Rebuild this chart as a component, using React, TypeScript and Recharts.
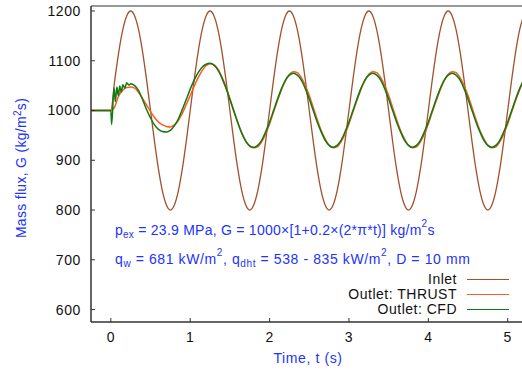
import { LineChart, Line, XAxis, YAxis, Legend } from 'recharts';

// shared time grid for inlet and THRUST (s)
const time = [
  -0.25,
  0, 0.05, 0.1, 0.15, 0.2, 0.25, 0.3, 0.35, 0.4, 0.45, 0.5, 0.55, 0.6, 0.65, 0.7, 0.75, 0.8, 0.85, 0.9, 0.95,
  1, 1.05, 1.1, 1.15, 1.2, 1.25, 1.3, 1.35, 1.4, 1.45, 1.5, 1.55, 1.6, 1.65, 1.7, 1.75, 1.8, 1.85, 1.9, 1.95,
  2, 2.05, 2.1, 2.15, 2.2, 2.25, 2.3, 2.35, 2.4, 2.45, 2.5, 2.55, 2.6, 2.65, 2.7, 2.75, 2.8, 2.85, 2.9, 2.95,
  3, 3.05, 3.1, 3.15, 3.2, 3.25, 3.3, 3.35, 3.4, 3.45, 3.5, 3.55, 3.6, 3.65, 3.7, 3.75, 3.8, 3.85, 3.9, 3.95,
  4, 4.05, 4.1, 4.15, 4.2, 4.25, 4.3, 4.35, 4.4, 4.45, 4.5, 4.55, 4.6, 4.65, 4.7, 4.75, 4.8, 4.85, 4.9, 4.95,
  5, 5.05, 5.1, 5.15, 5.2,
];

const inlet = [
  1000,
  1000, 1062, 1118, 1162, 1190, 1200, 1190, 1162, 1118, 1062, 1000, 938, 882, 838, 810, 800, 810, 838, 882, 938,
  1000, 1062, 1118, 1162, 1190, 1200, 1190, 1162, 1118, 1062, 1000, 938, 882, 838, 810, 800, 810, 838, 882, 938,
  1000, 1062, 1118, 1162, 1190, 1200, 1190, 1162, 1118, 1062, 1000, 938, 882, 838, 810, 800, 810, 838, 882, 938,
  1000, 1062, 1118, 1162, 1190, 1200, 1190, 1162, 1118, 1062, 1000, 938, 882, 838, 810, 800, 810, 838, 882, 938,
  1000, 1062, 1118, 1162, 1190, 1200, 1190, 1162, 1118, 1062, 1000, 938, 882, 838, 810, 800, 810, 838, 882, 938,
  1000, 1062, 1118, 1162, 1190,
];

const thrust = [
  1000,
  1000, 1008, 1030, 1041, 1046, 1047, 1045, 1036, 1024, 1011, 998, 986, 977, 971, 968, 967, 971, 980, 994, 1012,
  1030, 1049, 1066, 1080, 1090, 1094, 1092, 1083, 1067, 1047, 1024, 1000, 976, 955, 939, 928, 925, 927, 937, 953,
  973, 997, 1020, 1042, 1060, 1073, 1078, 1076, 1066, 1050, 1030, 1006, 982, 960, 943, 930, 925, 927, 937, 953,
  973, 997, 1020, 1042, 1060, 1073, 1078, 1076, 1066, 1050, 1030, 1006, 982, 960, 943, 930, 925, 927, 937, 953,
  973, 997, 1020, 1042, 1060, 1073, 1078, 1076, 1066, 1050, 1030, 1006, 982, 960, 943, 930, 925, 927, 937, 953,
  973, 997, 1020, 1042, 1060,
];

// CFD has its own grid, finer at the start for the wiggles
const cfdTime = [
  -0.25, 0, 0.01, 0.04, 0.057, 0.076, 0.095, 0.113, 0.132, 0.151, 0.177, 0.2, 0.227, 0.25,
  0.3, 0.35, 0.4, 0.45, 0.5, 0.55, 0.6, 0.65, 0.7, 0.75, 0.8, 0.85, 0.9, 0.95,
  1, 1.05, 1.1, 1.15, 1.2, 1.25, 1.3, 1.35, 1.4, 1.45, 1.5, 1.55, 1.6, 1.65, 1.7, 1.75, 1.8, 1.85, 1.9, 1.95,
  2, 2.05, 2.1, 2.15, 2.2, 2.25, 2.3, 2.35, 2.4, 2.45, 2.5, 2.55, 2.6, 2.65, 2.7, 2.75, 2.8, 2.85, 2.9, 2.95,
  3, 3.05, 3.1, 3.15, 3.2, 3.25, 3.3, 3.35, 3.4, 3.45, 3.5, 3.55, 3.6, 3.65, 3.7, 3.75, 3.8, 3.85, 3.9, 3.95,
  4, 4.05, 4.1, 4.15, 4.2, 4.25, 4.3, 4.35, 4.4, 4.45, 4.5, 4.55, 4.6, 4.65, 4.7, 4.75, 4.8, 4.85, 4.9, 4.95,
  5, 5.05, 5.1, 5.15, 5.2,
];

const cfd = [
  1000, 1000, 972, 1045, 1018, 1047, 1030, 1049, 1037, 1052, 1045, 1056, 1051, 1054,
  1050, 1040, 1022, 1002, 985, 971, 962, 958, 957, 960, 969, 983, 1002, 1022,
  1043, 1061, 1076, 1087, 1093, 1095, 1091, 1081, 1065, 1045, 1022, 998, 975, 954, 938, 929, 926, 930, 940, 957,
  977, 1000, 1023, 1044, 1061, 1071, 1075, 1071, 1061, 1044, 1023, 1000, 977, 957, 940, 930, 926, 930, 940, 957,
  977, 1000, 1023, 1044, 1061, 1071, 1075, 1071, 1061, 1044, 1023, 1000, 977, 957, 940, 930, 926, 930, 940, 957,
  977, 1000, 1023, 1044, 1061, 1071, 1075, 1071, 1061, 1044, 1023, 1000, 977, 957, 940, 930, 926, 930, 940, 957,
  977, 1000, 1023, 1044, 1061,
];

const xTicks = [0, 1, 2, 3, 4, 5];
const yTicks = [600, 700, 800, 900, 1000, 1100, 1200];

const series = [
  { name: 'Inlet', color: '#a0522d' },
  { name: 'Outlet: THRUST', color: '#ff5a1f' },
  { name: 'Outlet: CFD', color: '#0f7a12' },
];

const mainData = time.map((t, i) => ({ t, inlet: inlet[i], thrust: thrust[i] }));
const cfdData = cfdTime.map((t, i) => ({ t, cfd: cfd[i] }));

const FONT = '"Liberation Sans", Arial, Helvetica, sans-serif';
const BLUE = '#2233ff';
const AXIS = '#333';
const tickStyle = { fill: '#111', fontSize: 14, fontFamily: FONT, letterSpacing: 0.6 };

const LegendBox = () => (
  <div style={{ fontFamily: FONT, fontSize: 14, color: '#111', letterSpacing: 0.5 }}>
    {series.map((s) => (
      <div key={s.name} style={{ display: 'flex', justifyContent: 'flex-end', alignItems: 'center', height: 15 }}>
        <span style={{ lineHeight: '15px' }}>{s.name}</span>
        <span style={{ display: 'inline-block', width: 42, marginLeft: 10, borderTop: `1.5px solid ${s.color}` }} />
      </div>
    ))}
  </div>
);

export default function App() {
  return (
    <div style={{ position: 'relative', width: 522, height: 373, background: '#fff' }}>
      <style>{'body{margin:0}'}</style>
      <LineChart width={522} height={373} margin={{ top: 0, right: 0, bottom: 0, left: 0 }}>
        <XAxis
          xAxisId="b"
          type="number"
          dataKey="t"
          domain={[-0.25, 5.18]}
          allowDataOverflow
          ticks={xTicks}
          height={51}
          tickSize={-4}
          tickMargin={14}
          axisLine={{ stroke: AXIS, strokeWidth: 1.5 }}
          tickLine={{ stroke: AXIS }}
          tick={tickStyle}
        />
        <XAxis
          xAxisId="top"
          orientation="top"
          type="number"
          dataKey="t"
          domain={[-0.25, 5.18]}
          allowDataOverflow
          ticks={xTicks}
          height={6}
          tickSize={-4}
          tick={false}
          axisLine={{ stroke: AXIS, strokeWidth: 1.2 }}
          tickLine={{ stroke: AXIS }}
        />
        <YAxis
          type="number"
          domain={[575, 1210]}
          allowDataOverflow
          ticks={yTicks}
          width={91}
          tickSize={-4}
          tickMargin={14}
          axisLine={{ stroke: AXIS, strokeWidth: 1.5 }}
          tickLine={{ stroke: AXIS }}
          tick={tickStyle}
        />
        <Line xAxisId="b" data={mainData} dataKey="inlet" type="monotone" stroke={series[0].color} strokeWidth={1.3} dot={false} isAnimationActive={false} />
        <Line xAxisId="b" data={mainData} dataKey="thrust" type="monotone" stroke={series[1].color} strokeWidth={1.5} dot={false} isAnimationActive={false} />
        <Line xAxisId="b" data={cfdData} dataKey="cfd" type="monotone" stroke={series[2].color} strokeWidth={1.5} dot={false} isAnimationActive={false} />
        <Legend
          layout="vertical"
          align="center"
          verticalAlign="middle"
          content={<LegendBox />}
          wrapperStyle={{ left: 250, top: 272, width: 259 }}
        />
      </LineChart>
      <svg width={522} height={373} style={{ position: 'absolute', left: 0, top: 0, pointerEvents: 'none' }}>
        <g fontFamily={FONT} fontSize={14} fill={BLUE}>
          <text transform="translate(26,168) rotate(-90)" textAnchor="middle" letterSpacing={0.3}>
            Mass flux, G (kg/m<tspan dy={-5} fontSize={10}>2</tspan><tspan dy={5}>s)</tspan>
          </text>
          <text x={308} y={363} textAnchor="middle" letterSpacing={0.6}>Time, t (s)</text>
          <text x={115} y={235} letterSpacing={0.25}>
            p<tspan dy={3} fontSize={10}>ex</tspan>
            <tspan dy={-3}> = 23.9 MPa, G = 1000×[1+0.2×(2*π*t)] kg/m</tspan>
            <tspan dy={-8} fontSize={10}>2</tspan>
            <tspan dy={8}>s</tspan>
          </text>
          <text x={115} y={264} letterSpacing={0.6}>
            q<tspan dy={3} fontSize={10}>w</tspan>
            <tspan dy={-3}> = 681 kW/m</tspan>
            <tspan dy={-8} fontSize={10}>2</tspan>
            <tspan dy={8}>, q</tspan>
            <tspan dy={3} fontSize={10}>dht</tspan>
            <tspan dy={-3}> = 538 - 835 kW/m</tspan>
            <tspan dy={-8} fontSize={10}>2</tspan>
            <tspan dy={8}>, D = 10 mm</tspan>
          </text>
        </g>
      </svg>
    </div>
  );
}
